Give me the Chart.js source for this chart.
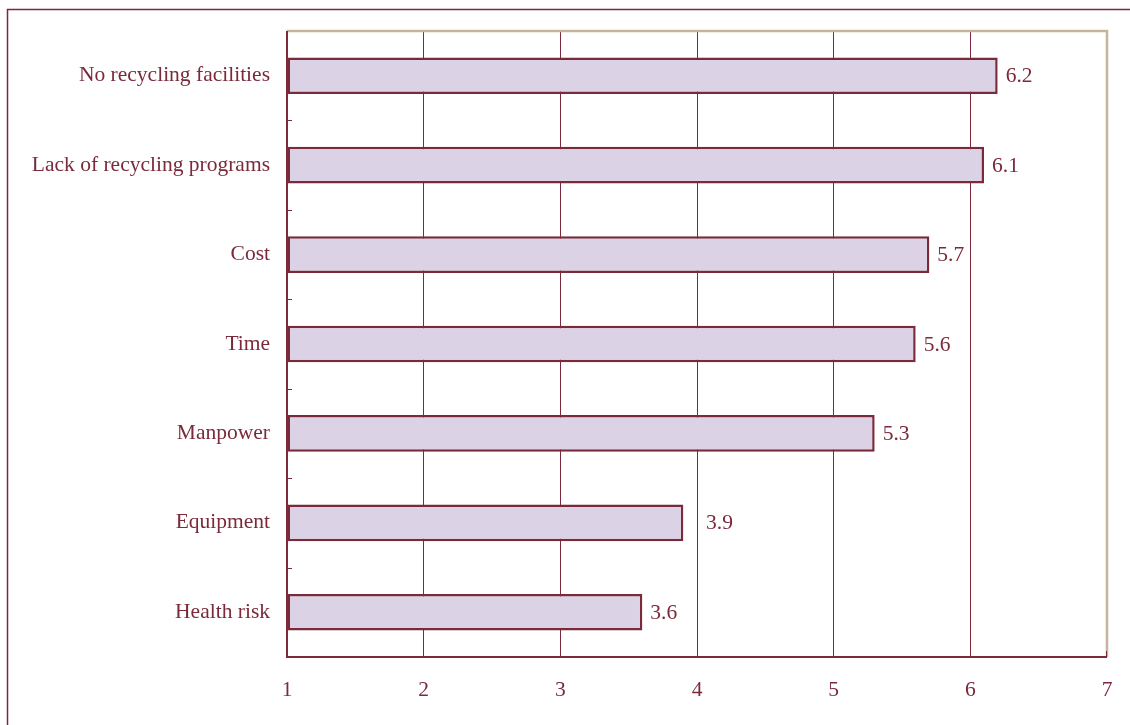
<!DOCTYPE html>
<html>
<head>
<meta charset="utf-8">
<script src="https://cdn.jsdelivr.net/npm/chart.js@4/dist/chart.umd.min.js"></script>
<style>
  html, body { margin: 0; padding: 0; background: #ffffff; }
  #wrap { width: 1130px; height: 725px; }
</style>
</head>
<body>
<div id="wrap"><canvas id="c" width="1130" height="725"></canvas></div>
<script>
// Barriers to recycling, mean scores
const categories = [
  'No recycling facilities',
  'Lack of recycling programs',
  'Cost',
  'Time',
  'Manpower',
  'Equipment',
  'Health risk'
];
const scores = [6.2, 6.1, 5.7, 5.6, 5.3, 3.9, 3.6];
const xTicks = [1, 2, 3, 4, 5, 6, 7];

const MAROON = '#7a2a3a';
const TAN = '#c6b59c';
const FILL = '#dbd2e6';
const FONT = { family: '"Liberation Serif", "Times New Roman", serif', size: 21.5 };

const decorations = {
  id: 'decorations',
  beforeDraw(chart) {
    const ctx = chart.ctx;
    // outer frame (top and left edges)
    ctx.save();
    ctx.strokeStyle = MAROON;
    ctx.lineWidth = 1.5;
    ctx.beginPath();
    ctx.moveTo(1130, 9.5);
    ctx.lineTo(7.5, 9.5);
    ctx.lineTo(7.5, 725);
    ctx.stroke();
    ctx.restore();
  },
  afterDatasetsDraw(chart) {
    const ctx = chart.ctx;
    const area = chart.chartArea;
    const x = chart.scales.x;
    const y = chart.scales.y;
    ctx.save();
    // top and right borders of the plot area
    ctx.strokeStyle = TAN;
    ctx.lineWidth = 2.5;
    ctx.beginPath();
    ctx.moveTo(area.left, area.top);
    ctx.lineTo(area.right, area.top);
    ctx.lineTo(area.right, area.bottom);
    ctx.stroke();
    // left and bottom axis lines
    ctx.strokeStyle = MAROON;
    ctx.lineWidth = 2;
    ctx.beginPath();
    ctx.moveTo(area.left, area.top);
    ctx.lineTo(area.left, area.bottom);
    ctx.lineTo(area.right, area.bottom);
    ctx.stroke();
    // short inner ticks between categories on the left axis
    ctx.lineWidth = 1;
    for (let i = 0; i < categories.length - 1; i++) {
      const yy = Math.round((y.getPixelForValue(i) + y.getPixelForValue(i + 1)) / 2) + 0.5;
      ctx.beginPath();
      ctx.moveTo(area.left, yy);
      ctx.lineTo(area.left + 5, yy);
      ctx.stroke();
    }
    // short tick at the right end of the x axis
    ctx.beginPath();
    ctx.moveTo(area.right - 0.5, area.bottom);
    ctx.lineTo(area.right - 0.5, area.bottom - 6);
    ctx.stroke();

    // value labels at the end of each bar
    ctx.fillStyle = MAROON;
    ctx.font = FONT.size + 'px ' + FONT.family;
    ctx.textBaseline = 'middle';
    ctx.textAlign = 'left';
    const meta = chart.getDatasetMeta(0);
    meta.data.forEach((bar, i) => {
      const txt = scores[i].toFixed(1);
      const w = ctx.measureText(txt).width;
      let lx = bar.x + 8;
      // step past a gridline that would cut through the label
      xTicks.forEach(t => {
        const gx = x.getPixelForValue(t);
        if (gx > lx - 2 && gx < lx + w + 2 && gx < area.right) lx = gx + 9;
      });
      ctx.fillText(txt, lx, bar.y + 1);
    });
    ctx.restore();
  }
};

new Chart(document.getElementById('c'), {
  type: 'bar',
  data: {
    labels: categories,
    datasets: [{
      data: scores,
      base: 1,
      backgroundColor: FILL,
      borderColor: MAROON,
      borderWidth: 2.5,
      borderSkipped: false,
      barPercentage: 0.41,
      categoryPercentage: 1.0
    }]
  },
  options: {
    indexAxis: 'y',
    responsive: false,
    animation: false,
    devicePixelRatio: 1,
    layout: { padding: { top: 31, right: 23, left: 0, bottom: 0 } },
    plugins: {
      legend: { display: false },
      tooltip: { enabled: false }
    },
    scales: {
      x: {
        type: 'linear',
        min: 1,
        max: 7,
        afterBuildTicks(scale) {
          scale.ticks = xTicks.map(v => ({ value: v }));
        },
        afterFit(scale) {
          scale.height = 68;
          scale.paddingLeft = 0;
          scale.paddingRight = 0;
        },
        border: { display: false },
        grid: {
          color: ctx => (ctx.tick && (ctx.tick.value === 1 || ctx.tick.value === 7)) ? 'rgba(0,0,0,0)' : MAROON,
          lineWidth: 1,
          drawTicks: false
        },
        ticks: {
          color: MAROON,
          font: FONT,
          padding: 20,
          maxRotation: 0
        }
      },
      y: {
        afterFit(scale) {
          scale.width = 287;
          scale.paddingTop = 0;
          scale.paddingBottom = 0;
        },
        border: { display: false },
        grid: { display: false, drawTicks: false },
        ticks: {
          color: MAROON,
          font: FONT,
          padding: 17
        }
      }
    }
  },
  plugins: [decorations]
});
</script>
</body>
</html>
